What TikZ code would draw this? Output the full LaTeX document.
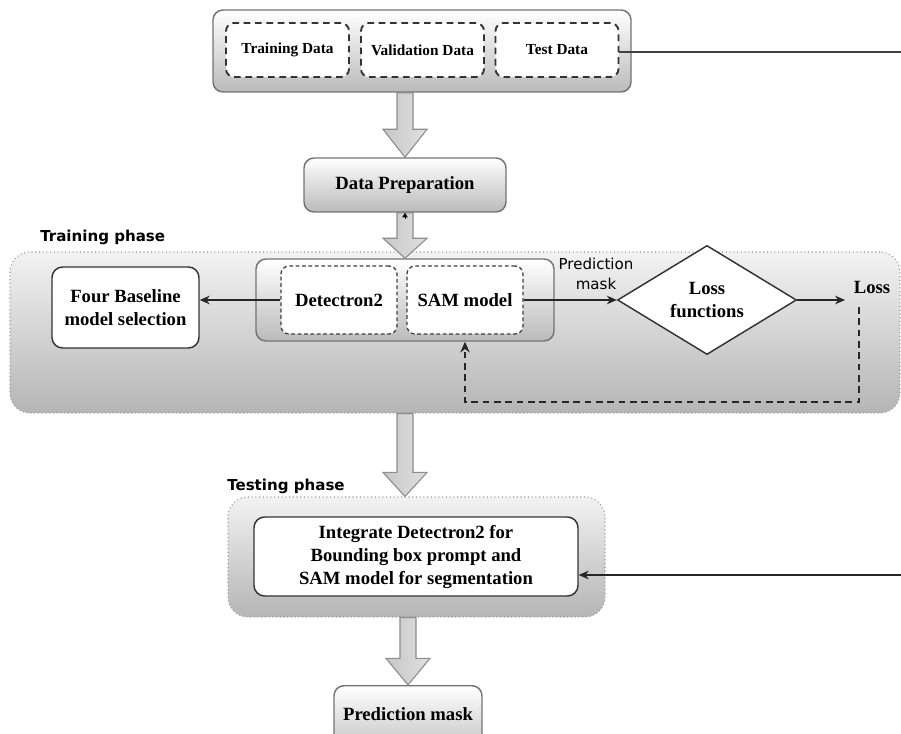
\documentclass[tikz,border=0pt]{standalone}
\usepackage{fontspec}
\setmainfont{Liberation Serif}
\newfontfamily\sansf{DejaVu Sans}
\usetikzlibrary{shapes.geometric,arrows.meta,calc}
\newcommand{\blockarrow}[3]{%
  \draw[blockarr] let \p1=(#1), \p2=(#2) in
    (\x1-6pt,\y1) -- (\x1-6pt,\y2+#3) -- (\x1-16.5pt,\y2+#3) -- (\x1,\y2)
    -- (\x1+16.5pt,\y2+#3) -- (\x1+6pt,\y2+#3) -- (\x1+6pt,\y1) -- cycle;}
\begin{document}
\begin{tikzpicture}[x=0.75pt,y=-0.75pt,
  txt/.style={font=\fontsize{14}{17.25}\selectfont\bfseries, align=center},
  smalltxt/.style={font=\fontsize{11.5}{14}\selectfont\bfseries},
  sanslbl/.style={font=\sansf\fontsize{11.3}{15}\selectfont, align=center, inner sep=0pt},
  phaselbl/.style={font=\sansf\fontsize{11.3}{14}\selectfont\bfseries, anchor=west, inner sep=0pt},
  outerbox/.style={draw=black!55, line width=1.1pt, rounded corners=7.5pt, top color=white, bottom color=black!27, inner sep=0pt},
  databox/.style={draw=black!80, line width=1.4pt, dash pattern=on 5pt off 3.5pt, rounded corners=6pt, fill=white, smalltxt, minimum width=92.25pt, minimum height=40.5pt, inner sep=0pt},
  modbox/.style={draw=black!75, line width=1pt, dash pattern=on 2.8pt off 2pt, rounded corners=6pt, fill=white, txt, minimum width=87pt, minimum height=51pt, inner sep=0pt},
  whitebox/.style={draw=black!80, line width=1.1pt, rounded corners=8pt, fill=white, txt, inner sep=0pt},
  phase/.style={draw=black!40, dotted, line width=0.8pt, rounded corners=15pt, top color=black!5, bottom color=black!29, inner sep=0pt},
  blockarr/.style={left color=black!22, right color=black!12, draw=black!45, line width=0.8pt},
  arr/.style={-{Stealth[length=7.5pt,width=6.5pt]}, line width=0.9pt, draw=black!85},
  thin/.style={line width=0.8pt, draw=black!75},
  fb/.style={line width=1.9pt, dash pattern=on 5pt off 3.5pt, draw=black!85, -{Stealth[length=8pt,width=7pt]}}
]
\useasboundingbox (0,0) rectangle (901,734);

% ---------- top data box ----------
\node[outerbox, minimum width=313.5pt, minimum height=61.5pt] (topbox) at (422,51) {};
\node[databox] (train) at (287.5,50) {Training Data};
\node[databox] (val) at (422.5,50) {Validation Data};
\node[databox] (test) at (557,50) {Test Data};
\coordinate (r1) at (901,52);
\draw[thin] (test.east |- r1) -- (r1);

% ---------- data preparation ----------
\node[outerbox, txt, minimum width=151.5pt, minimum height=40.5pt] (prep) at (405,185) {Data Preparation};
\blockarrow{prep.north |- topbox.south}{prep.north}{21pt}

% ---------- training phase ----------
\node[phase, minimum width=667.5pt, minimum height=120.75pt] (tcont) at (455,332.5) {};
\node[phaselbl] (tlabel) at (40,237) {Training phase};
\node[outerbox, minimum width=223.5pt, minimum height=61.5pt] (group) at (405,300) {};
\node[modbox] (det) at (339,300) {Detectron2};
\node[modbox] (sam) at (465,300) {SAM model};
\node[whitebox, minimum width=110.25pt, minimum height=60.75pt] (four) at (125.5,307.5) {Four Baseline\\model selection};
\blockarrow{prep.south}{group.north}{15pt}
\draw[-{Triangle[length=3.5pt,width=4pt]}, line width=0.6pt] ($(prep.south)+(0,6)$) -- (prep.south);
\draw[arr] (det.west) -- (det.west -| four.east);

\node[diamond, draw=black!80, line width=1.1pt, fill=white, txt, minimum width=134.25pt, minimum height=78pt, inner sep=0pt] (lossfn) at (707,300) {Loss\\functions};
\draw[arr] (sam.east) -- (lossfn.west);
\node[sanslbl] (predlbl) at (596,274) {Prediction\\mask};
\node[txt, inner sep=0pt] (losslbl) at (872,287) {Loss};
\coordinate (lossend) at (845,300);
\draw[arr] (lossfn.east) -- (lossend);
\coordinate (fb1) at (859,307);
\coordinate (fb2) at (859,402);
\draw[fb] (fb1) -- (fb2) -| (sam.south |- group.south);

% ---------- testing phase ----------
\node[phase, minimum width=282.75pt, minimum height=90pt] (scont) at (416.5,557) {};
\node[phaselbl] (slabel) at (227,486) {Testing phase};
\node[whitebox, minimum width=243pt, minimum height=59.25pt] (integ) at (416,556.5) {Integrate Detectron2 for\\Bounding box prompt and\\SAM model for segmentation};
\blockarrow{group.south |- tcont.south}{group.south |- scont.north}{18pt}
\coordinate (r2) at (901,575);
\draw[arr, line width=0.8pt] (r2) -- (r2 -| integ.east);

% ---------- prediction mask ----------
\node[outerbox, txt, minimum width=111pt, minimum height=55pt, anchor=north] (pmask) at (408,685) {\raisebox{12.5pt}{Prediction mask}};
\blockarrow{pmask.north |- scont.south}{pmask.north}{20pt}
\end{tikzpicture}
\end{document}
